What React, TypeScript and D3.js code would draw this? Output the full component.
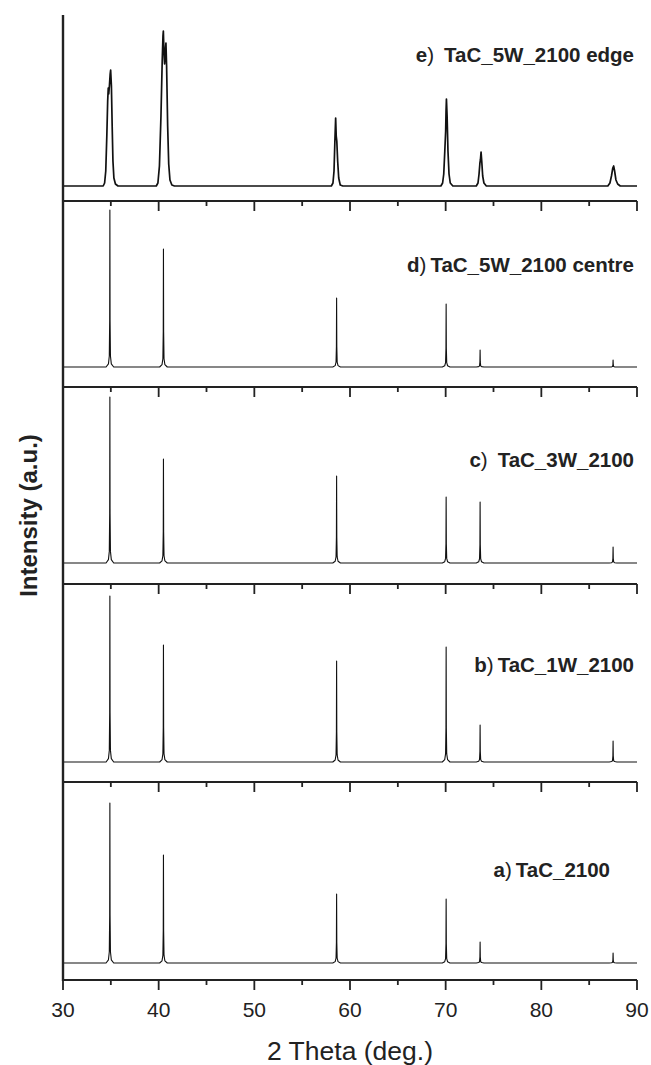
import * as d3 from "d3";

// 2 theta positions of the TaC reflections (111, 200, 220, 311, 222, 400)
const peakPositions = [34.9, 40.5, 58.6, 70.05, 73.6, 87.5];

// samples from bottom (a) to top (e)
const sampleIds = ["a", "b", "c", "d", "e"];
const sampleNames = ["TaC_2100", "TaC_1W_2100", "TaC_3W_2100", "TaC_5W_2100 centre", "TaC_5W_2100 edge"];

// background level and peak heights (a.u.)
const backgroundLevels = [17, 20, 21, 20, 15];
const heightsA = [160, 108, 69, 64, 21, 10];
const heightsB = [166, 117, 101, 115, 37, 21];
const heightsC = [166, 104, 87, 66, 61, 16];
const heightsD = [157, 118, 69, 63, 17, 7];

// shape of the narrow peaks: offset in degrees and fraction of the peak height
const sharpOffsets = [-0.4, -0.15, -0.06, -0.02, 0, 0.02, 0.06, 0.15, 0.4];
const sharpShape = [0, 0.02, 0.07, 0.3, 1, 0.3, 0.07, 0.02, 0];

// the edge sample has broad split peaks, so its trace is listed point by point
const traceE: [number, number][] = [
  [30, 0],
  [34.2, 0], [34.35, 3], [34.47, 15], [34.58, 50], [34.67, 85], [34.73, 98], [34.78, 92],
  [34.85, 100], [34.93, 112], [34.98, 116], [35.06, 100], [35.14, 60], [35.22, 25],
  [35.32, 8], [35.48, 2], [35.75, 0],
  [39.75, 0], [39.92, 3], [40.08, 20], [40.24, 70], [40.37, 125], [40.45, 150], [40.49, 155],
  [40.55, 135], [40.62, 122], [40.7, 136], [40.76, 143], [40.83, 120], [40.94, 60],
  [41.05, 22], [41.18, 6], [41.38, 1], [41.65, 0],
  [58.05, 0], [58.22, 3], [58.33, 15], [58.42, 45], [58.5, 68], [58.56, 50], [58.62, 45],
  [58.71, 25], [58.82, 8], [58.98, 1], [59.25, 0],
  [69.5, 0], [69.68, 3], [69.8, 12], [69.91, 35], [70.0, 55], [70.04, 75], [70.08, 87],
  [70.15, 70], [70.24, 35], [70.35, 12], [70.48, 3], [70.75, 0],
  [73.2, 0], [73.38, 3], [73.49, 12], [73.58, 23], [73.63, 26], [73.7, 34], [73.77, 25],
  [73.87, 10], [74.0, 3], [74.25, 0],
  [86.95, 0], [87.17, 3], [87.33, 10], [87.47, 18], [87.56, 20], [87.66, 15], [87.8, 6],
  [87.98, 2], [88.25, 0],
  [90, 0],
];

const W = 651;
const H = 1065;
const LEFT = 63;
const RIGHT = 637;
// panel edges, bottom panel first
const panelTops = [782, 584, 387, 201, 15];
const panelBottoms = [980, 782, 584, 387, 201];
const labelX = [610, 634, 634, 634, 634];
const labelY = [877, 672, 467, 272, 62];
const labelGap = [4, 4, 10, 4, 10];

const font = "'Liberation Sans', Arial, Helvetica, sans-serif";

function sharpTrace(heights: number[]): [number, number][] {
  const pts: [number, number][] = [[30, 0]];
  peakPositions.forEach((p, i) => {
    sharpOffsets.forEach((dx, j) => pts.push([p + dx, heights[i] * sharpShape[j]]));
  });
  pts.push([90, 0]);
  return pts;
}

export default function App() {
  const x = d3.scaleLinear().domain([30, 90]).range([LEFT, RIGHT]);
  const traces = [sharpTrace(heightsA), sharpTrace(heightsB), sharpTrace(heightsC), sharpTrace(heightsD), traceE];
  const majorTicks = x.ticks(6);
  const minorTicks = x.ticks(12).filter((t) => !majorTicks.includes(t));

  return (
    <svg width={W} height={H} style={{ position: "absolute", left: 0, top: 0, background: "#fff" }}>
      {traces.map((tr, i) => {
        const y = d3
          .scaleLinear()
          .domain([0, panelBottoms[i] - panelTops[i]])
          .range([panelBottoms[i], panelTops[i]]);
        const line = d3
          .line<[number, number]>()
          .x((d) => x(d[0]))
          .y((d) => y(d[1] + backgroundLevels[i]));
        return (
          <path
            key={sampleIds[i]}
            d={line(tr) || ""}
            fill="none"
            stroke="#111"
            strokeWidth={i === 4 ? 1.7 : 1.1}
            strokeLinejoin="round"
          />
        );
      })}

      {panelBottoms.map((yb, i) => (
        <g key={"ax" + i}>
          <line x1={LEFT} x2={RIGHT} y1={yb} y2={yb} stroke="#222" strokeWidth={2} />
          {majorTicks.map((t) => (
            <line key={t} x1={x(t)} x2={x(t)} y1={yb} y2={yb + 10} stroke="#222" strokeWidth={1.8} />
          ))}
          {minorTicks.map((t) => (
            <line key={t} x1={x(t)} x2={x(t)} y1={yb} y2={yb + 5} stroke="#222" strokeWidth={1.8} />
          ))}
        </g>
      ))}
      <line x1={LEFT} x2={LEFT} y1={15} y2={981} stroke="#222" strokeWidth={2.4} />

      {majorTicks.map((t) => (
        <text key={t} x={x(t)} y={1017} fontFamily={font} fontSize={21} textAnchor="middle" fill="#222">
          {t}
        </text>
      ))}
      <text x={(LEFT + RIGHT) / 2} y={1060} fontFamily={font} fontSize={26.5} textAnchor="middle" fill="#222">
        2 Theta (deg.)
      </text>
      <text
        transform={`translate(37, ${(15 + 980) / 2 + 18}) rotate(-90)`}
        fontFamily={font}
        fontSize={24}
        fontWeight="bold"
        textAnchor="middle"
        fill="#222"
      >
        Intensity (a.u.)
      </text>

      {sampleIds.map((id, i) => (
        <text
          key={id}
          x={labelX[i]}
          y={labelY[i]}
          fontFamily={font}
          fontSize={20.5}
          fontWeight="bold"
          textAnchor="end"
          fill="#222"
        >
          <tspan>{id}</tspan>
          <tspan fontWeight="normal">)</tspan>
          <tspan dx={labelGap[i]}>{sampleNames[i]}</tspan>
        </text>
      ))}
    </svg>
  );
}
